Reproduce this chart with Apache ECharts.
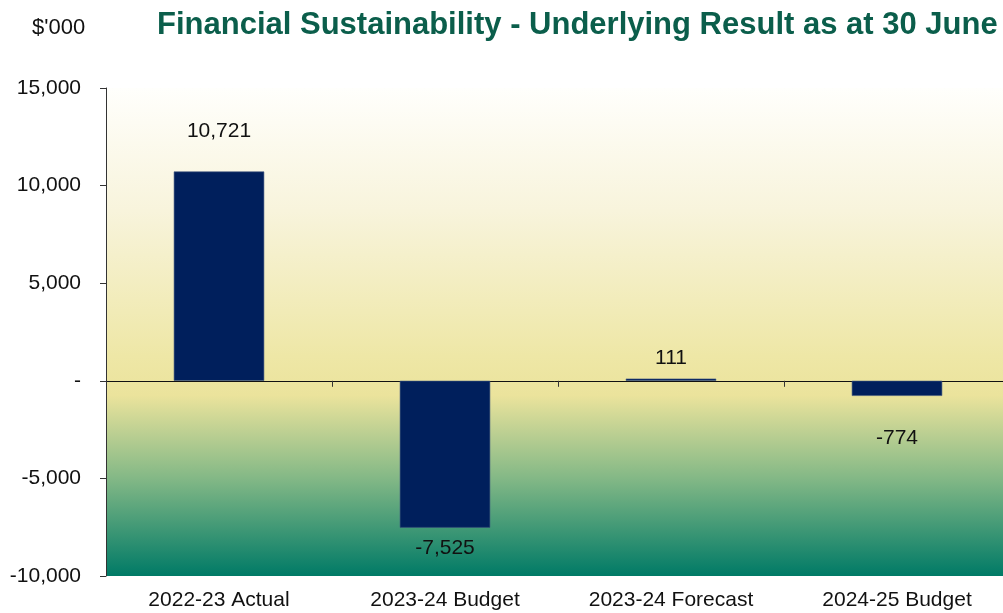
<!DOCTYPE html>
<html>
<head>
<meta charset="utf-8">
<style>
  html, body { margin: 0; padding: 0; background: #ffffff; overflow: hidden; }
  #chart { width: 1003px; height: 613px; }
</style>
<script src="https://cdn.jsdelivr.net/npm/echarts@6/dist/echarts.min.js"></script>
</head>
<body>
<div id="chart"></div>
<script>
// Underlying result by period, in $'000
const categories = ['2022-23 Actual', '2023-24 Budget', '2023-24 Forecast', '2024-25 Budget'];
const underlyingResult = [10721, -7525, 111, -774];
const yTicks = { min: -10000, max: 15000, interval: 5000 };

// gap between each bar end and its value label
const labelGaps = [30, 10, 10, 32];

const FONT = '"Liberation Sans", Arial, sans-serif';

const chart = echarts.init(document.getElementById('chart'), null, { renderer: 'canvas' });

function fmt(v) {
  if (v === 0) return '-';
  return v.toLocaleString('en-US');
}

const barData = underlyingResult.map((v, i) => ({
  value: v,
  label: {
    position: v >= 0 ? 'top' : 'bottom',
    distance: labelGaps[i]
  }
}));

chart.setOption({
  animation: false,
  title: [
    {
      text: 'Financial Sustainability - Underlying Result as at 30 June',
      left: 152, top: 5,
      textStyle: { fontFamily: FONT, fontSize: 31, fontWeight: 'bold', color: '#0b5e4b' }
    },
    {
      text: "$'000",
      left: 27, top: 12,
      textStyle: { fontFamily: FONT, fontSize: 22, fontWeight: 'normal', color: '#111111' }
    }
  ],
  // the plot runs a few pixels past the right edge of the canvas
  grid: { left: 106, width: 904, top: 88, bottom: 37, containLabel: false,
    outerBoundsMode: 'none',
    show: true, borderWidth: 0,
    backgroundColor: {
      type: 'linear', x: 0, y: 0, x2: 0, y2: 1,
      colorStops: [
        { offset: 0, color: '#fffffc' },
        { offset: 0.25, color: '#f8f4dc' },
        { offset: 0.55, color: '#eee7a6' },
        { offset: 0.63, color: '#ebe39c' },
        { offset: 0.8, color: '#83b886' },
        { offset: 1, color: '#007a66' }
      ]
    }
  },
  xAxis: [
    {
      type: 'category', data: categories, position: 'bottom',
      axisLine: { show: false, onZero: false },
      axisTick: { show: false },
      axisLabel: { fontFamily: FONT, fontSize: 21, color: '#111111', margin: 14 }
    },
    {
      type: 'category', data: categories, position: 'bottom',
      axisLine: { show: true, onZero: true, lineStyle: { color: '#111111', width: 1 } },
      axisTick: { show: true, length: 6, lineStyle: { color: '#333333' } },
      axisLabel: { show: false }
    }
  ],
  yAxis: {
    type: 'value', min: yTicks.min, max: yTicks.max, interval: yTicks.interval,
    axisLine: { show: true, lineStyle: { color: '#333333', width: 1 } },
    axisTick: { show: true, length: 6, lineStyle: { color: '#333333' } },
    splitLine: { show: false },
    axisLabel: { fontFamily: FONT, fontSize: 21, color: '#111111', margin: 25, formatter: fmt }
  },
  series: [{
    type: 'bar',
    data: barData,
    barWidth: '40%',
    itemStyle: { color: '#001f5c', borderColor: '#3b527e', borderWidth: 0.6 },
    label: {
      show: true, fontFamily: FONT, fontSize: 21, color: '#111111',
      formatter: p => fmt(p.value)
    }
  }]
});
</script>
</body>
</html>
